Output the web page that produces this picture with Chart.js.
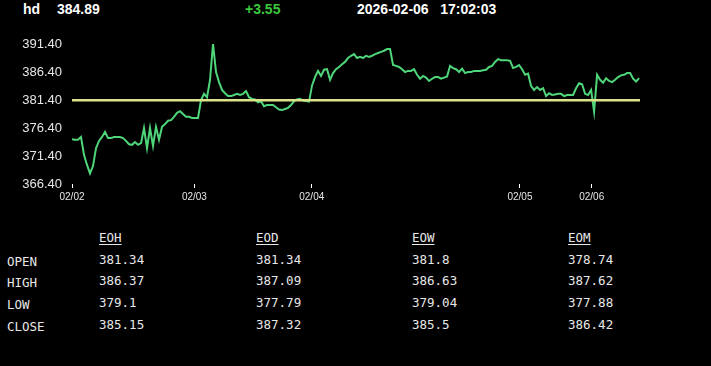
<!DOCTYPE html>
<html>
<head>
<meta charset="utf-8">
<script src="https://cdn.jsdelivr.net/npm/chart.js@4"></script>
<style>
  body { margin: 0; background: #000; width: 711px; height: 366px; overflow: hidden; position: relative; }
  .hdr { position: absolute; top: 0; font: bold 14px "Liberation Sans", Arial, sans-serif; color: #fff; line-height: 19px; }
  #chartBox { position: absolute; left: 0; top: 0; width: 711px; height: 210px; }
  .cell { position: absolute; font: 12.5px "DejaVu Sans Mono", monospace; color: #e8e8e8; white-space: pre; line-height: 16px; }
  .colHead { text-decoration: underline; text-underline-offset: 2px; }
</style>
</head>
<body>
<div class="hdr" style="left:23px">hd</div>
<div class="hdr" id="lastPx" style="left:57px"></div>
<div class="hdr" id="chg" style="left:245px;color:#3cc83c"></div>
<div class="hdr" id="stamp" style="left:357px"></div>
<div id="chartBox"><canvas id="c"></canvas></div>
<div id="tbl"></div>
<script>
// header
const symbol = 'hd'
const lastPrice = '384.89'
const change = '+3.55'
const stampDate = '2026-02-06'
const stampTime = '17:02:03'

// reference (previous close) line
const refPrice = 381.34

// price trace, evenly spaced samples left to right
const priceValues = [
  374.4, 374.3, 374.3, 374.8, 371.6, 369.8, 368.3, 369.6, 372.8, 374.1,
  374.8, 375.7, 374.6, 374.6, 374.8, 374.8, 374.8, 374.6, 374.1, 373.5,
  373.4, 373.9, 373.4, 373.7, 376.4, 372.8, 376.4, 373.2, 376.6, 374.3,
  376.6, 377.1, 377.7, 377.8, 378.4, 379.1, 379.4, 378.9, 378.4, 378.4,
  378.2, 378.2, 378.2, 381.4, 382.5, 381.9, 385.0, 391.4, 386.4, 384.6,
  383.2, 382.6, 382.1, 382.1, 382.3, 382.5, 382.3, 382.5, 383.0, 381.9,
  381.6, 381.5, 381.0, 381.2, 380.3, 380.5, 380.5, 380.5, 380.1, 379.7,
  379.6, 379.8, 380.0, 380.5, 381.2, 381.5, 381.6, 381.3, 381.2, 381.1,
  384.0, 385.5, 386.6, 385.7, 386.8, 386.9, 385.0, 386.2, 386.9, 387.3,
  387.8, 388.2, 388.9, 389.3, 389.6, 388.9, 389.1, 388.9, 389.3, 389.1,
  389.3, 389.6, 389.8, 390.0, 390.2, 390.5, 390.5, 387.65, 387.5, 387.3,
  386.9, 386.4, 386.6, 386.6, 386.9, 385.9, 385.2, 385.7, 385.4, 384.8,
  385.2, 385.5, 385.5, 385.2, 385.4, 385.6, 387.5, 387.1, 386.9, 386.4,
  387.0, 386.2, 386.4, 386.4, 386.6, 386.6, 386.6, 386.7, 386.8, 387.3,
  387.5, 388.2, 388.7, 388.5, 388.5, 388.5, 388.4, 387.1, 387.3, 387.65,
  386.9, 385.9, 386.1, 383.9, 383.2, 383.7, 383.2, 383.5, 382.1, 382.6,
  382.3, 382.4, 382.5, 382.5, 382.1, 382.3, 382.3, 382.3, 383.5, 384.4,
  384.2, 382.5, 382.3, 383.2, 379.3, 385.9, 385.0, 384.5, 385.3, 384.8,
  384.6, 385.0, 385.5, 385.8, 385.9, 386.2, 386.2, 385.2, 384.7, 385.3
]

// x axis: sample index where each day starts, and its label
const dayStartIndex = [0, 40.8, 79.9, 149.3, 173.2]
const dayLabels = ['02/02', '02/03', '02/04', '02/05', '02/06']
const xEnd = 189.3

// y axis ticks
const yTicks = [366.4, 371.4, 376.4, 381.4, 386.4, 391.4]

// summary table
const colNames = ['EOH', 'EOD', 'EOW', 'EOM']
const rowNames = ['OPEN', 'HIGH', 'LOW', 'CLOSE']
const eohValues = ['381.34', '386.37', '379.1', '385.15']
const eodValues = ['381.34', '387.09', '377.79', '387.32']
const eowValues = ['381.8', '386.63', '379.04', '385.5']
const eomValues = ['378.74', '387.62', '377.88', '386.42']

document.getElementById('lastPx').textContent = lastPrice
document.getElementById('chg').textContent = change
document.getElementById('stamp').textContent = stampDate + '\u00a0\u00a0\u00a0' + stampTime

const tickColor = '#e6e6e6'

new Chart(document.getElementById('c'), {
  type: 'line',
  data: {
    datasets: [
      {
        label: 'ref',
        data: [{ x: 0, y: refPrice }, { x: xEnd, y: refPrice }],
        borderColor: '#dbe38a',
        borderWidth: 2.5,
        pointRadius: 0,
        order: 0
      },
      {
        label: symbol,
        data: priceValues.map((v, i) => ({ x: i, y: v })),
        borderColor: '#4fd67a',
        borderWidth: 2,
        pointRadius: 0,
        tension: 0,
        order: 1
      }
    ]
  },
  options: {
    responsive: true,
    maintainAspectRatio: false,
    animation: false,
    layout: { padding: { top: 44, right: 71, left: 0, bottom: 0 } },
    plugins: { legend: { display: false }, tooltip: { enabled: false } },
    scales: {
      x: {
        type: 'linear',
        min: 0,
        max: xEnd,
        afterBuildTicks: scale => { scale.ticks = dayStartIndex.map(v => ({ value: v })) },
        afterFit: scale => { scale.height = 26 },
        grid: { drawOnChartArea: false, drawTicks: true, tickLength: 4, color: '#ffffff', lineWidth: 1 },
        border: { display: false },
        ticks: {
          autoSkip: false,
          maxRotation: 0,
          padding: 3,
          color: tickColor,
          font: { family: 'Liberation Sans', size: 10 },
          callback: (v, i) => dayLabels[i]
        }
      },
      y: {
        min: yTicks[0],
        max: yTicks[yTicks.length - 1],
        afterBuildTicks: scale => { scale.ticks = yTicks.map(v => ({ value: v })) },
        afterFit: scale => { scale.width = 72 },
        grid: { display: false, drawTicks: false },
        border: { display: false },
        ticks: {
          padding: 10,
          color: tickColor,
          font: { family: 'Liberation Sans', size: 13 },
          callback: v => v.toFixed(2)
        }
      }
    }
  }
})

// table
const tbl = document.getElementById('tbl')
const colX = [99, 256, 412, 568]
const rowY = [252, 273, 295, 317]
const colValues = [eohValues, eodValues, eowValues, eomValues]
function cell(text, x, y, cls) {
  const d = document.createElement('div')
  d.className = 'cell' + (cls ? ' ' + cls : '')
  d.style.left = x + 'px'
  d.style.top = y + 'px'
  d.textContent = text
  tbl.appendChild(d)
}
colNames.forEach((n, c) => cell(n, colX[c], 230, 'colHead'))
rowNames.forEach((n, r) => cell(n, 7, rowY[r] + 2))
colValues.forEach((vals, c) => vals.forEach((v, r) => cell(v, colX[c], rowY[r])))
</script>
</body>
</html>
